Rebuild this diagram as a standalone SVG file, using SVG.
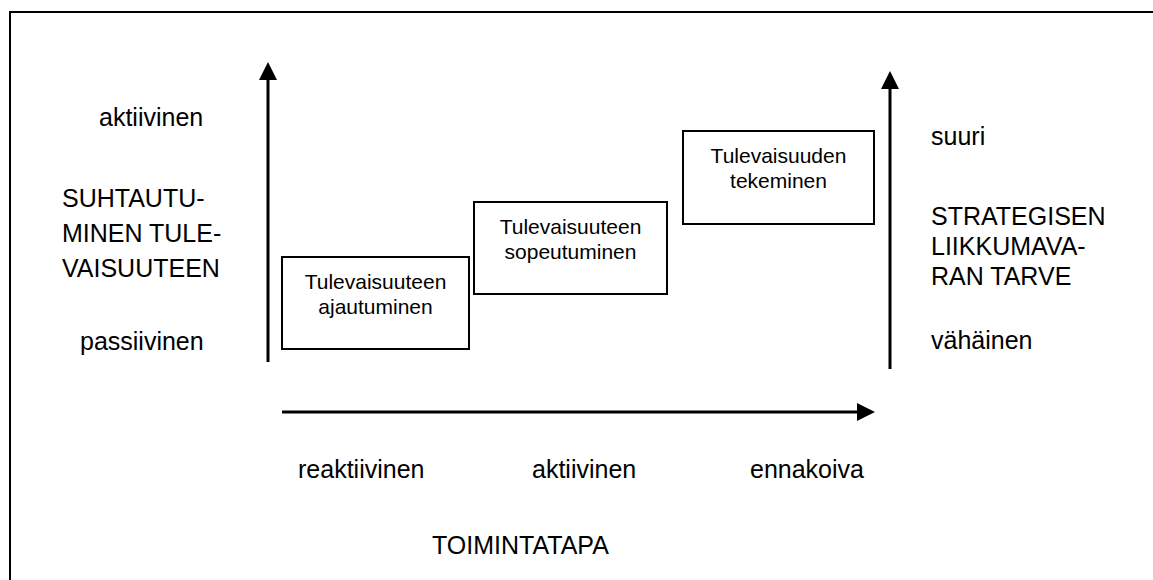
<svg xmlns="http://www.w3.org/2000/svg" width="1153" height="580" viewBox="0 0 1153 580">
  <style>
    text { font-family: "Liberation Sans", Arial, sans-serif; fill: #000; }
    .lbl { font-size: 25px; }
    .box text { font-size: 21px; text-anchor: middle; }
    .box rect { fill: #fff; stroke: #000; stroke-width: 2; }
    .axis { stroke: #000; stroke-width: 3; fill: none; }
  </style>
  <defs>
    <marker id="head" markerWidth="6" markerHeight="6" refX="0" refY="3" orient="auto" markerUnits="strokeWidth">
      <path d="M0,0 L6,3 L0,6 Z" fill="#000"/>
    </marker>
  </defs>

  <rect width="1153" height="580" fill="#fff"/>
  <!-- frame -->
  <path d="M10,580 L10,12 L1153,12" fill="none" stroke="#000" stroke-width="2"/>

  <!-- axes -->
  <g id="connectors">
    <line class="axis" x1="268" y1="362" x2="268" y2="80" marker-end="url(#head)"/>
    <line class="axis" x1="890" y1="369" x2="890" y2="89" marker-end="url(#head)"/>
    <line class="axis" x1="282" y1="412" x2="857" y2="412" marker-end="url(#head)"/>
  </g>

  <!-- left axis labels -->
  <g id="left-labels">
    <text class="lbl" x="99" y="126">aktiivinen</text>
    <text class="lbl" x="62" y="207">SUHTAUTU-</text>
    <text class="lbl" x="62" y="242">MINEN TULE-</text>
    <text class="lbl" x="62" y="277">VAISUUTEEN</text>
    <text class="lbl" x="80" y="350">passiivinen</text>
  </g>

  <!-- right axis labels -->
  <g id="right-labels">
    <text class="lbl" x="931" y="145">suuri</text>
    <text class="lbl" x="931" y="225">STRATEGISEN</text>
    <text class="lbl" x="931" y="255">LIIKKUMAVA-</text>
    <text class="lbl" x="931" y="285">RAN TARVE</text>
    <text class="lbl" x="931" y="349">vähäinen</text>
  </g>

  <!-- bottom axis labels -->
  <g id="bottom-labels">
    <text class="lbl" x="298" y="478">reaktiivinen</text>
    <text class="lbl" x="532" y="478">aktiivinen</text>
    <text class="lbl" x="750" y="478">ennakoiva</text>
    <text class="lbl" x="432" y="554">TOIMINTATAPA</text>
  </g>

  <g id="ajautuminen" class="box">
    <rect x="282" y="257" width="187" height="92"/>
    <text x="375.5" y="289">Tulevaisuuteen</text>
    <text x="375.5" y="314">ajautuminen</text>
  </g>

  <g id="sopeutuminen" class="box">
    <rect x="474" y="202" width="193" height="92"/>
    <text x="570.5" y="234">Tulevaisuuteen</text>
    <text x="570.5" y="259">sopeutuminen</text>
  </g>

  <g id="tekeminen" class="box">
    <rect x="683" y="131" width="191" height="93"/>
    <text x="778.5" y="163">Tulevaisuuden</text>
    <text x="778.5" y="188">tekeminen</text>
  </g>
</svg>
